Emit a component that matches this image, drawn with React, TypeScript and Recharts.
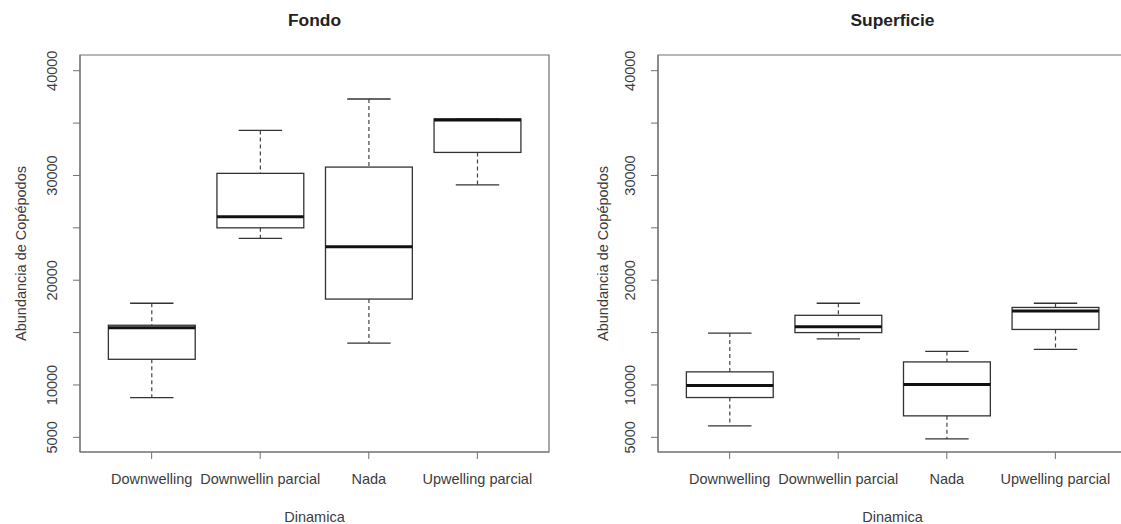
import { ComposedChart, Bar, XAxis, YAxis, Label, ReferenceArea } from "recharts";

const categories = ["Downwelling", "Downwellin parcial", "Nada", "Upwelling parcial"];
const positions = [1, 2, 3, 4];
const xDomain = [0.34, 4.66];
const yTicks = [5000, 10000, 15000, 20000, 25000, 30000, 35000, 40000];
const yTickLabels = [5000, 10000, 20000, 30000, 40000];
const yDomain = [3600, 41500];

// Fondo
const fondoMin = [8800, 24000, 14000, 29100];
const fondoQ1 = [12450, 25000, 18200, 32200];
const fondoMedian = [15450, 26050, 23200, 35300];
const fondoQ3 = [15700, 30200, 30800, 35400];
const fondoMax = [17800, 34300, 37300, 35400];

// Superficie
const supMin = [6100, 14400, 4850, 13400];
const supQ1 = [8800, 15000, 7050, 15300];
const supMedian = [9950, 15550, 10050, 17050];
const supQ3 = [11250, 16650, 12200, 17400];
const supMax = [14950, 17800, 13200, 17800];

const FONT = "'Liberation Sans', Arial, sans-serif";
const TEXT = "#3c3c3c";
const FRAME = "#707070";

function buildRows(mins: number[], q1s: number[], meds: number[], q3s: number[], maxs: number[]) {
  return categories.map((name, i) => ({
    name,
    pos: positions[i],
    min: mins[i],
    q1: q1s[i],
    median: meds[i],
    q3: q3s[i],
    max: maxs[i],
    range: [mins[i], maxs[i]],
  }));
}

function BoxShape(props: any) {
  const { x, y, width, height, payload } = props;
  const top = Math.min(y, y + height);
  const bottom = Math.max(y, y + height);
  const { min, q1, median, q3, max } = payload;
  const toY = (v: number) => bottom - ((v - min) / (max - min)) * (bottom - top);
  const cx = x + width / 2;
  const cap = width / 4;
  return (
    <g>
      <line x1={cx} x2={cx} y1={toY(max)} y2={toY(q3)} stroke="#444" strokeWidth={1.2} strokeDasharray="4 3" />
      <line x1={cx} x2={cx} y1={toY(q1)} y2={toY(min)} stroke="#444" strokeWidth={1.2} strokeDasharray="4 3" />
      <line x1={cx - cap} x2={cx + cap} y1={toY(max)} y2={toY(max)} stroke="#333" strokeWidth={1.3} />
      <line x1={cx - cap} x2={cx + cap} y1={toY(min)} y2={toY(min)} stroke="#333" strokeWidth={1.3} />
      <rect x={x} y={toY(q3)} width={width} height={toY(q1) - toY(q3)} fill="none" stroke="#333" strokeWidth={1.3} />
      <line x1={x} x2={x + width} y1={toY(median)} y2={toY(median)} stroke="#111" strokeWidth={3} />
    </g>
  );
}

function YTick(props: any) {
  const { x, y, payload } = props;
  if (!yTickLabels.includes(payload.value)) return null;
  return (
    <text x={x} y={y} transform={`rotate(-90 ${x} ${y})`} textAnchor="middle" fill={TEXT} fontSize={14.5} fontFamily={FONT}>
      {payload.value}
    </text>
  );
}

function YTitle(props: any) {
  const { viewBox, gap } = props;
  const cx = viewBox.x + viewBox.width - gap;
  const cy = viewBox.y + viewBox.height / 2;
  return (
    <text x={cx} y={cy} transform={`rotate(-90 ${cx} ${cy})`} textAnchor="middle" fill={TEXT} fontSize={14.5} fontFamily={FONT}>
      Abundancia de Copépodos
    </text>
  );
}

interface PanelProps {
  title: string;
  rows: ReturnType<typeof buildRows>;
  left: number;
  width: number;
  axisWidth: number;
  rightMargin: number;
  titleGap: number;
}

function Panel({ title, rows, left, width, axisWidth, rightMargin, titleGap }: PanelProps) {
  const plotWidth = width - axisWidth - rightMargin;
  const band = plotWidth / (xDomain[1] - xDomain[0]);
  return (
    <div style={{ position: "absolute", left, top: 0, width, height: 524 }}>
      <div
        style={{
          position: "absolute",
          top: 10,
          left: axisWidth,
          width: plotWidth,
          lineHeight: "20px",
          textAlign: "center",
          fontFamily: FONT,
          fontWeight: "bold",
          fontSize: 17.4,
          color: "#222",
        }}
      >
        {title}
      </div>
      <ComposedChart width={width} height={524} data={rows} margin={{ top: 55, right: rightMargin, bottom: 0, left: 0 }}>
        <XAxis
          dataKey="pos"
          type="number"
          domain={xDomain}
          allowDataOverflow
          ticks={positions}
          interval={0}
          tickFormatter={(v) => categories[v - 1]}
          height={72}
          tickSize={7}
          tickMargin={14.5}
          stroke={FRAME}
          tick={{ fill: TEXT, fontSize: 14.5, fontFamily: FONT }}
        >
          <Label value="Dinamica" position="insideBottom" offset={2} fill={TEXT} fontSize={14.5} fontFamily={FONT} />
        </XAxis>
        <YAxis
          type="number"
          domain={yDomain}
          allowDataOverflow
          ticks={yTicks}
          interval={0}
          width={axisWidth}
          tickSize={7}
          tickMargin={16}
          stroke={FRAME}
          tick={<YTick />}
        >
          <Label content={<YTitle gap={titleGap} />} />
        </YAxis>
        <ReferenceArea
          x1={xDomain[0]}
          x2={xDomain[1]}
          y1={yDomain[0]}
          y2={yDomain[1]}
          fill="none"
          stroke={FRAME}
          strokeWidth={1.2}
          ifOverflow="visible"
        />
        <Bar dataKey="range" barSize={band * 0.8} shape={<BoxShape />} isAnimationActive={false} />
      </ComposedChart>
    </div>
  );
}

export default function App() {
  const fondo = buildRows(fondoMin, fondoQ1, fondoMedian, fondoQ3, fondoMax);
  const superficie = buildRows(supMin, supQ1, supMedian, supQ3, supMax);
  return (
    <div style={{ position: "absolute", left: 0, top: 0, width: 1121, height: 524, overflow: "hidden", background: "#fff" }}>
      <Panel title="Fondo" rows={fondo} left={0} width={560} axisWidth={80} rightMargin={11} titleGap={54} />
      <Panel title="Superficie" rows={superficie} left={560} width={580} axisWidth={98} rightMargin={13} titleGap={50} />
    </div>
  );
}
